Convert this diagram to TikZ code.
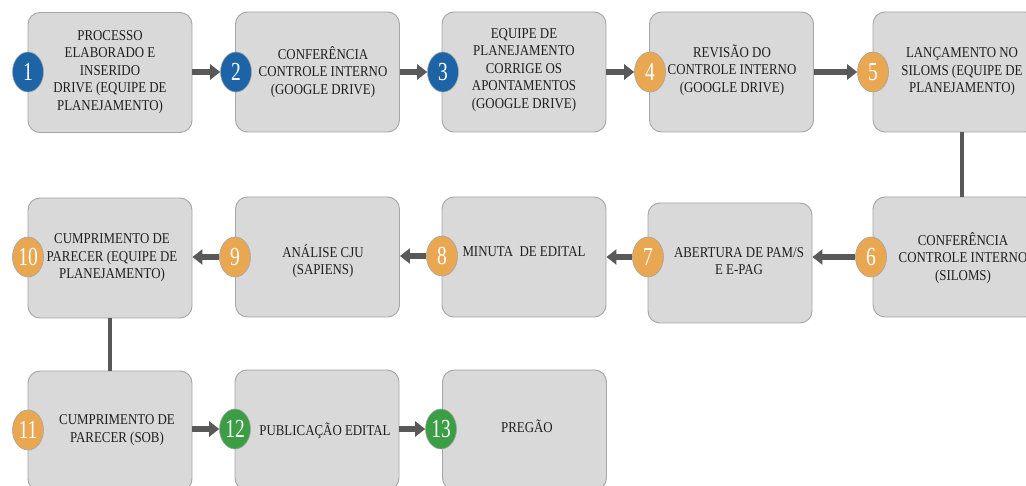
\documentclass[tikz,border=0pt]{standalone}
\usepackage{fontspec}
\setmainfont{Liberation Serif}[FakeStretch=0.86]
\newfontfamily\numfont{Liberation Serif}[FakeStretch=0.75]
\usetikzlibrary{arrows.meta,shapes.geometric}

\definecolor{boxfill}{HTML}{D9D9D9}
\definecolor{boxline}{HTML}{A5A5A5}
\definecolor{flow}{HTML}{595959}
\definecolor{stepblue}{HTML}{1D64A7}
\definecolor{steporange}{HTML}{E9A752}
\definecolor{stepgreen}{HTML}{3B9E45}

\tikzset{
  stepbox/.style={draw=boxline, line width=0.9pt, fill=boxfill, rounded corners=12pt,
    minimum width=164pt, minimum height=120pt, inner sep=0pt},
  badge/.style={shape=ellipse, draw=boxline, line width=0.6pt, minimum width=31pt,
    minimum height=40pt, inner sep=0pt, text=white,
    font=\numfont\fontsize{26}{26}\selectfont},
  blue/.style={badge, fill=stepblue},
  orange/.style={badge, fill=steporange},
  green/.style={badge, fill=stepgreen},
  caption/.style={align=center, inner sep=0pt, text=black!88,
    font=\fontsize{15}{17.5}\selectfont},
  flowarrow/.style={draw=flow, line width=5.5pt, -{Triangle[length=10pt,width=15pt]}},
  link/.style={draw=flow, line width=4pt},
}

\begin{document}
\begin{tikzpicture}[x=1pt,y=-1pt]
\useasboundingbox (0,0) rectangle (1026,486);
\clip (0,0) rectangle (1026,486);

% process boxes
\node[stepbox] (b1)  at (110,72.5) {};
\node[stepbox] (b2)  at (317.5,72) {};
\node[stepbox] (b3)  at (524,72) {};
\node[stepbox] (b4)  at (731.5,72) {};
\node[stepbox] (b5)  at (955,72) {};
\node[stepbox] (b6)  at (955,257) {};
\node[stepbox] (b7)  at (730,263) {};
\node[stepbox] (b8)  at (524,257) {};
\node[stepbox] (b9)  at (317.5,257) {};
\node[stepbox] (b10) at (110,258) {};
\node[stepbox] (b11) at (110,431) {};
\node[stepbox] (b12) at (317,430) {};
\node[stepbox] (b13) at (524.5,430) {};

% box texts
\node[caption] (t1)  at (110,72)  {PROCESSO\\ELABORADO E\\INSERIDO\\DRIVE (EQUIPE DE\\PLANEJAMENTO)};
\node[caption] (t2)  at (323,72)  {CONFERÊNCIA\\CONTROLE INTERNO\\(GOOGLE DRIVE)};
\node[caption] (t3)  at (524,70)  {EQUIPE DE\\PLANEJAMENTO\\CORRIGE OS\\APONTAMENTOS\\(GOOGLE DRIVE)};
\node[caption] (t4)  at (732,70)  {REVISÃO DO\\CONTROLE INTERNO\\(GOOGLE DRIVE)};
\node[caption] (t5)  at (962,72)  {LANÇAMENTO NO\\SILOMS (EQUIPE DE\\PLANEJAMENTO)};
\node[caption] (t6)  at (963,258) {CONFERÊNCIA\\CONTROLE INTERNO\\(SILOMS)};
\node[caption] (t7)  at (739,261) {ABERTURA DE PAM/S\\E E-PAG};
\node[caption] (t8)  at (524,252) {MINUTA\ \ DE EDITAL};
\node[caption] (t9)  at (323,261) {ANÁLISE CJU\\(SAPIENS)};
\node[caption] (t10) at (112,258) {CUMPRIMENTO DE\\PARECER (EQUIPE DE\\PLANEJAMENTO)};
\node[caption] (t11) at (117,430) {CUMPRIMENTO DE\\PARECER (SOB)};
\node[caption] (t12) at (325,431) {PUBLICAÇÃO EDITAL};
\node[caption] (t13) at (527,426) {PREGÃO};

% step numbers
\node[blue]   (c1)  at (28,72)   {1};
\node[blue]   (c2)  at (236,72)  {2};
\node[blue]   (c3)  at (443,72)  {3};
\node[orange] (c4)  at (650,72)  {4};
\node[orange] (c5)  at (873,72)  {5};
\node[orange] (c6)  at (871,257) {6};
\node[orange] (c7)  at (648,257) {7};
\node[orange] (c8)  at (442,256) {8};
\node[orange] (c9)  at (235,257) {9};
\node[orange] (c10) at (28,257)  {10};
\node[orange] (c11) at (28,430)  {11};
\node[green]  (c12) at (235,429) {12};
\node[green]  (c13) at (441,429) {13};

% flow
\draw[flowarrow] (b1.east |- c2) -- (c2.west);
\draw[flowarrow] (b2.east |- c3) -- (c3.west);
\draw[flowarrow] (b3.east |- c4) -- (c4.west);
\draw[flowarrow] (b4.east |- c5) -- (c5.west);
\draw[link] ([xshift=7pt]b5.south) -- ([xshift=7pt]b6.north);
\draw[flowarrow] (c6.west) -- (c6.west -| b7.east);
\draw[flowarrow] (c7.west) -- (c7.west -| b8.east);
\draw[flowarrow] (c8.west) -- (c8.west -| b9.east);
\draw[flowarrow] (c9.west) -- (c9.west -| b10.east);
\draw[link] (b10.south) -- (b11.north);
\draw[flowarrow] (b11.east |- c12) -- (c12.west);
\draw[flowarrow] (b12.east |- c13) -- (c13.west);
\end{tikzpicture}
\end{document}
